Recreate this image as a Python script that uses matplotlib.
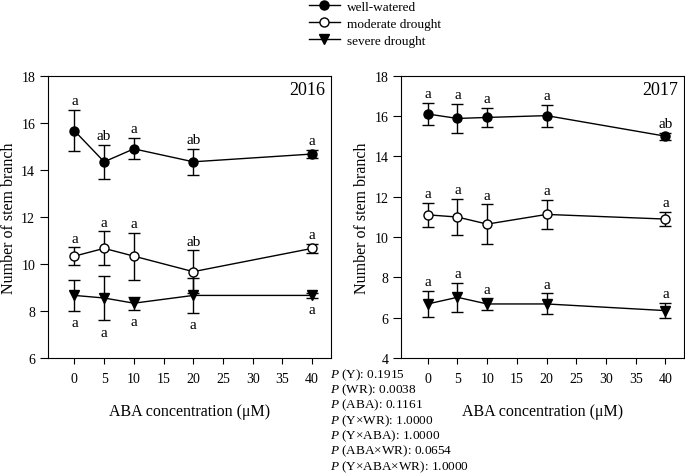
import numpy as np
import matplotlib
matplotlib.use("Agg")
from matplotlib import pyplot as plt
from matplotlib.lines import Line2D

plt.rcParams['font.family'] = ['Liberation Serif', 'DejaVu Serif']
plt.rcParams['mathtext.fontset'] = 'custom'
plt.rcParams['mathtext.it'] = 'Liberation Serif:italic'
plt.rcParams['mathtext.rm'] = 'Liberation Serif'

# data
aba = [0, 5, 10, 20, 40]
series_names = ["well-watered", "moderate drought", "severe drought"]

ww_2016 = [15.66, 14.34, 14.89, 14.34, 14.67]
ww_2016_err = [0.88, 0.72, 0.45, 0.55, 0.18]
md_2016 = [10.33, 10.66, 10.33, 9.67, 10.66]
md_2016_err = [0.37, 0.72, 1.00, 0.90, 0.20]
sd_2016 = [8.66, 8.55, 8.33, 8.66, 8.66]
sd_2016_err = [0.66, 0.94, 0.27, 0.73, 0.10]

ww_2017 = [16.10, 15.88, 15.93, 16.02, 15.00]
ww_2017_err = [0.55, 0.73, 0.48, 0.55, 0.17]
md_2017 = [11.10, 10.99, 10.64, 11.12, 10.89]
md_2017_err = [0.58, 0.90, 0.98, 0.72, 0.36]
sd_2017 = [6.68, 7.01, 6.68, 6.68, 6.35]
sd_2017_err = [0.63, 0.73, 0.28, 0.52, 0.38]

ww_2016_lbl = ["a", "ab", "a", "ab", "a"]
md_2016_lbl = ["a", "a", "a", "ab", "a"]
sd_2016_lbl = ["a", "a", "a", "a", "a"]
ww_2017_lbl = ["a", "a", "a", "a", "ab"]
md_2017_lbl = ["a", "a", "a", "a", "a"]
sd_2017_lbl = ["a", "a", "a", "a", "a"]

p_lines = ["$P$ (Y): 0.1915", "$P$ (WR): 0.0038", "$P$ (ABA): 0.1161",
           "$P$ (Y\u00d7WR): 1.0000", "$P$ (Y\u00d7ABA): 1.0000",
           "$P$ (ABA\u00d7WR): 0.0654", "$P$ (Y\u00d7ABA\u00d7WR): 1.0000"]

styles = [dict(marker='o', mfc='black'),
          dict(marker='o', mfc='white'),
          dict(marker='v', mfc='black')]

fig = plt.figure(figsize=(6.85, 4.77), dpi=100)
ax1 = fig.add_axes([0.0696, 0.2474, 0.413, 0.5918])
ax2 = fig.add_axes([0.5854, 0.2474, 0.413, 0.5918])


def draw_panel(ax, vals, errs, lbls, below, year, ylim, yticks):
    for v, e, l, st, b in zip(vals, errs, lbls, styles, below):
        ax.errorbar(aba, v, yerr=e, color='black', lw=1, ms=6.5,
                    mec='black', mew=1, capsize=4.5, elinewidth=1,
                    capthick=1, **st)
        # significance letters
        for x, y, err, t in zip(aba, v, e, l):
            if b:
                ax.annotate(t, (x, y - err), xytext=(0, -4),
                            textcoords='offset points', ha='center',
                            va='top', fontsize=11)
            else:
                ax.annotate(t, (x, y + err), xytext=(0, 2),
                            textcoords='offset points', ha='center',
                            va='bottom', fontsize=11)
    ax.set_xlim(-4.5, 43.1)
    ax.set_ylim(*ylim)
    ax.set_xticks(range(0, 41, 5))
    ax.set_yticks(yticks)
    ax.tick_params(labelsize=10, direction='out', width=0.8)
    ax.tick_params(axis='x', length=4, pad=6)
    ax.tick_params(axis='y', length=6, pad=3)
    ax.set_xlabel("ABA concentration (\u03bcM)", fontsize=11.5, labelpad=13)
    ax.set_ylabel("Number of stem branch", fontsize=11.5, labelpad=3)
    ax.text(0.98, 0.95, year, transform=ax.transAxes, ha='right',
            va='center', fontsize=13)
    for s in ax.spines.values():
        s.set_linewidth(0.8)


draw_panel(ax1, [ww_2016, md_2016, sd_2016],
           [ww_2016_err, md_2016_err, sd_2016_err],
           [ww_2016_lbl, md_2016_lbl, sd_2016_lbl],
           [False, False, True], "2016", (6, 18), range(6, 19, 2))
draw_panel(ax2, [ww_2017, md_2017, sd_2017],
           [ww_2017_err, md_2017_err, sd_2017_err],
           [ww_2017_lbl, md_2017_lbl, sd_2017_lbl],
           [False, False, False], "2017", (4, 18), range(4, 19, 2))

# legend
handles = [Line2D([], [], color='black', lw=1, ms=6.5, mec='black', **st)
           for st in styles]
fig.legend(handles, series_names, loc='upper left',
           bbox_to_anchor=(0.434, 1.021), frameon=False, fontsize=9.5,
           handlelength=2.3, handletextpad=0.6, labelspacing=0.35)

# statistics
for i, t in enumerate(p_lines):
    fig.text(0.482, 1 - (375 + i * 15.3) / 477, t, fontsize=9.5,
             va='center', ha='left')

fig.savefig("out.png", dpi=100)
